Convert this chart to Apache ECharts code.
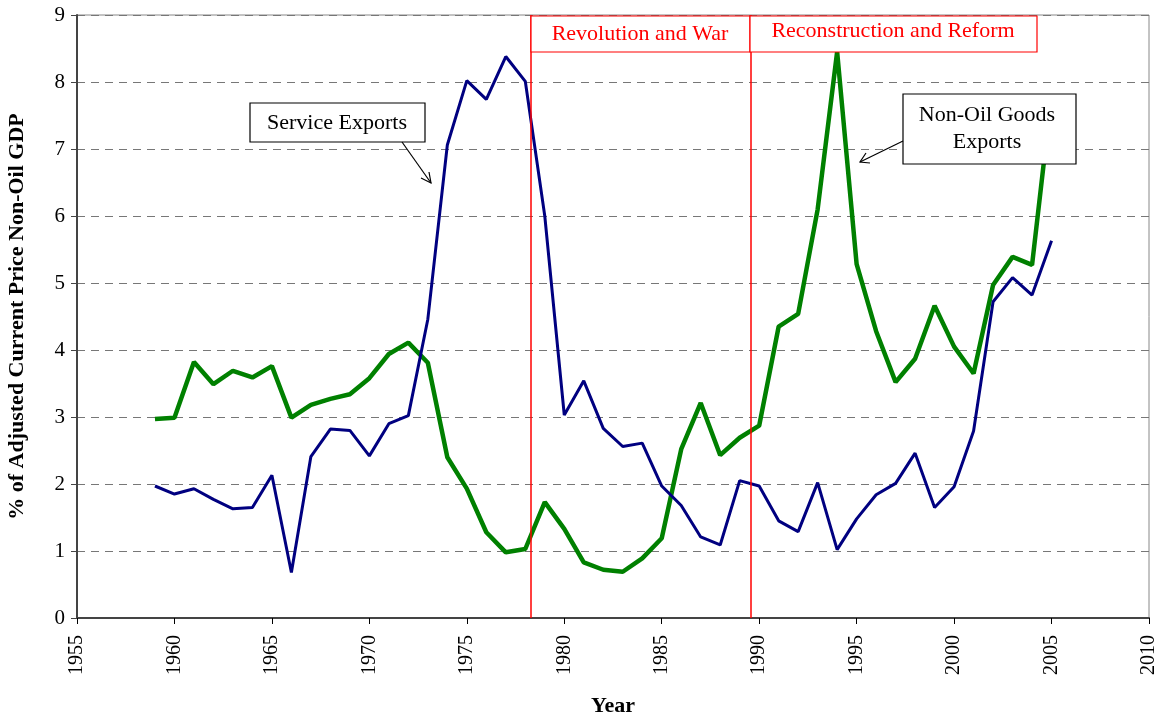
<!DOCTYPE html>
<html>
<head>
<meta charset="utf-8">
<script src="https://cdn.jsdelivr.net/npm/echarts@6/dist/echarts.min.js"></script>
<style>
  html, body { margin: 0; padding: 0; background: #fff; }
  #chart { width: 1163px; height: 719px; }
</style>
</head>
<body>
<div id="chart"></div>
<script>
// years shared by both series
var years = [1959, 1960, 1961, 1962, 1963, 1964, 1965, 1966, 1967, 1968, 1969, 1970,
  1971, 1972, 1973, 1974, 1975, 1976, 1977, 1978, 1979, 1980, 1981, 1982, 1983,
  1984, 1985, 1986, 1987, 1988, 1989, 1990, 1991, 1992, 1993, 1994, 1995, 1996,
  1997, 1998, 1999, 2000, 2001, 2002, 2003, 2004, 2005];

// service exports, % of non-oil GDP
var serviceExports = [1.97, 1.85, 1.93, 1.77, 1.63, 1.65, 2.13, 0.68, 2.41, 2.82, 2.80, 2.42,
  2.90, 3.02, 4.46, 7.06, 8.02, 7.74, 8.38, 8.01, 6.00, 3.03, 3.54, 2.83, 2.56,
  2.61, 1.97, 1.68, 1.21, 1.09, 2.05, 1.97, 1.45, 1.29, 2.02, 1.02, 1.48, 1.84,
  2.01, 2.46, 1.65, 1.96, 2.79, 4.72, 5.08, 4.82, 5.63];

// non-oil goods exports, % of non-oil GDP
var goodsExports = [2.97, 2.99, 3.82, 3.49, 3.69, 3.59, 3.76, 2.99, 3.18, 3.27, 3.34, 3.58,
  3.94, 4.11, 3.81, 2.40, 1.93, 1.28, 0.98, 1.03, 1.73, 1.33, 0.83, 0.72, 0.69,
  0.89, 1.19, 2.52, 3.21, 2.43, 2.69, 2.87, 4.35, 4.54, 6.10, 8.45, 5.28, 4.28,
  3.52, 3.87, 4.66, 4.05, 3.65, 4.97, 5.39, 5.27, 7.80];

// period boundaries (red lines)
var periodLines = [1978.3, 1989.55];

function pairs(xs, ys) {
  return xs.map(function (x, i) { return [x, ys[i]]; });
}

var serif = '"Liberation Serif", "DejaVu Serif", serif';
var chart = echarts.init(document.getElementById('chart'));

chart.setOption({
  backgroundColor: '#fff',
  animation: false,
  grid: { left: 77, right: 14, top: 15, bottom: 101, containLabel: false, outerBoundsMode: 'none',
    show: true, borderColor: '#888', borderWidth: 1 },
  xAxis: {
    type: 'value', min: 1955, max: 2010, interval: 5,
    name: 'Year', nameLocation: 'middle', nameGap: 77,
    nameTextStyle: { fontFamily: serif, fontSize: 22, fontWeight: 'bold', color: '#000' },
    axisLine: { lineStyle: { color: '#444', width: 2 } },
    axisTick: { show: true, length: 6, lineStyle: { color: '#000' } },
    axisLabel: { rotate: 90, fontFamily: serif, fontSize: 20, color: '#000', margin: 17,
      formatter: function (v) { return String(v); } },
    splitLine: { show: false }
  },
  yAxis: {
    type: 'value', min: 0, max: 9, interval: 1,
    name: '% of Adjusted Current Price Non-Oil GDP', nameLocation: 'middle', nameGap: 49,
    nameTextStyle: { fontFamily: serif, fontSize: 22, fontWeight: 'bold', color: '#000' },
    axisLine: { show: true, lineStyle: { color: '#444', width: 2 } },
    axisTick: { show: true, length: 6, lineStyle: { color: '#444' } },
    axisLabel: { fontFamily: serif, fontSize: 21, color: '#000', margin: 12 },
    splitLine: { show: true, lineStyle: { color: '#777', type: [8, 6], width: 1.2 } }
  },
  series: [
    {
      name: 'Service Exports', type: 'line', data: pairs(years, serviceExports),
      symbol: 'none', z: 3,
      lineStyle: { color: '#000080', width: 3 },
      markLine: {
        silent: true, symbol: 'none', label: { show: false },
        lineStyle: { color: '#ff0000', width: 1.5, type: 'solid' },
        data: periodLines.map(function (v) { return { xAxis: v }; })
      }
    },
    {
      name: 'Non-Oil Goods Exports', type: 'line', data: pairs(years, goodsExports),
      symbol: 'none', z: 2,
      lineStyle: { color: '#008000', width: 4.5 }
    }
  ]
});

// annotation boxes and arrows
var txt = { fontFamily: serif, fontSize: 22, fill: '#000' };
var redTxt = { fontFamily: serif, fontSize: 22, fill: '#ff0000' };
chart.setOption({
  graphic: [
    { type: 'rect', shape: { x: 531, y: 16, width: 219, height: 36 }, style: { fill: '#fff', stroke: '#ff0000', lineWidth: 1.2 }, z: 10 },
    { type: 'text', x: 640, y: 34, style: Object.assign({ text: 'Revolution and War', align: 'center', verticalAlign: 'middle' }, redTxt), z: 11 },
    { type: 'rect', shape: { x: 750, y: 16, width: 287, height: 36 }, style: { fill: '#fff', stroke: '#ff0000', lineWidth: 1.2 }, z: 10 },
    { type: 'text', x: 893, y: 31, style: Object.assign({ text: 'Reconstruction and Reform', align: 'center', verticalAlign: 'middle' }, redTxt), z: 11 },

    { type: 'rect', shape: { x: 250, y: 103, width: 175, height: 39 }, style: { fill: '#fff', stroke: '#000', lineWidth: 1.2 }, z: 10 },
    { type: 'text', x: 337, y: 123, style: Object.assign({ text: 'Service Exports', align: 'center', verticalAlign: 'middle' }, txt), z: 11 },
    { type: 'line', shape: { x1: 402, y1: 142, x2: 431, y2: 183 }, style: { stroke: '#000', lineWidth: 1.2 }, z: 10 },
    { type: 'polyline', shape: { points: [[421, 178], [431, 183], [429, 172]] }, style: { stroke: '#000', lineWidth: 1.2, fill: null }, z: 10 },

    { type: 'rect', shape: { x: 903, y: 94, width: 173, height: 70 }, style: { fill: '#fff', stroke: '#000', lineWidth: 1.2 }, z: 10 },
    { type: 'text', x: 987, y: 129, style: Object.assign({ text: 'Non-Oil Goods\nExports', align: 'center', verticalAlign: 'middle', lineHeight: 27 }, txt), z: 11 },
    { type: 'line', shape: { x1: 903, y1: 141, x2: 860, y2: 162 }, style: { stroke: '#000', lineWidth: 1.2 }, z: 10 },
    { type: 'polyline', shape: { points: [[866, 153], [860, 162], [870, 163]] }, style: { stroke: '#000', lineWidth: 1.2, fill: null }, z: 10 }
  ]
});
</script>
</body>
</html>
